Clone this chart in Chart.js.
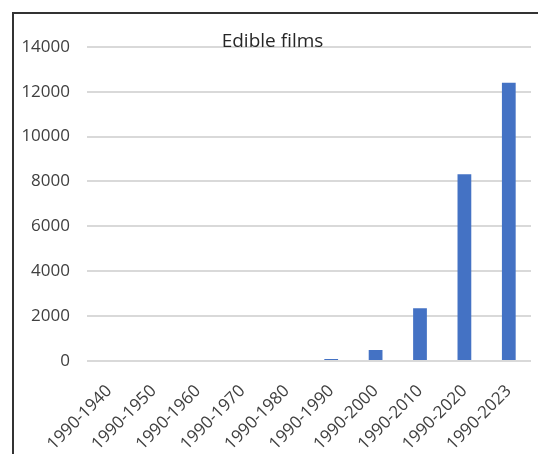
<!DOCTYPE html>
<html>
<head>
<meta charset="utf-8">
<script src="https://cdn.jsdelivr.net/npm/chart.js@4"></script>
<style>
  html, body { margin: 0; padding: 0; background: #fff; }
  #box {
    position: absolute; left: 12px; top: 12px;
    width: 524px; height: 440px;
    border-left: 2px solid #333; border-top: 2px solid #333;
  }
</style>
</head>
<body>
<div id="box"><canvas id="myChart"></canvas></div>
<script>
// Dados do gráfico
const periodos = ["1990-1940", "1990-1950", "1990-1960", "1990-1970", "1990-1980",
                  "1990-1990", "1990-2000", "1990-2010", "1990-2020", "1990-2023"];
const publicacoes = [0, 0, 0, 0, 0, 90, 490, 2350, 8320, 12400];
const titulo = "Edible films";

const config = {
    type: 'bar',
    data: {
        labels: periodos,
        datasets: [
            {backgroundColor: "#4472C4",
             data: publicacoes,
             barPercentage: 0.31,
             categoryPercentage: 1
            }
        ]},
    options: {
      responsive: true,
      maintainAspectRatio: false,
      animation: false,
      layout: {
        padding: { right: 7 }
      },
      plugins: {
          legend: {
              display: false,
          },
          tooltip: { enabled: false },
          title: {
              display: true,
              text: titulo,
              color: '#262626',
              font: { family: 'Open Sans', size: 19, weight: 'normal' },
              padding: { top: 16, bottom: -6 }
          }
      },
      scales: {
          x: {
              grid: { display: false },
              border: { display: false },
              ticks: {
                  color: '#404040',
                  minRotation: 45,
                  maxRotation: 45,
                  padding: 12,
                  font: { family: 'Open Sans', size: 17 },
              },
              afterFit: s => { s.height = 93; }
          },
          y: {
            min: 0,
            max: 14000,
            grid: { color: '#d9d9d9', lineWidth: 2, drawTicks: false },
            border: { display: false },
            ticks: {
              stepSize: 2000,
              color: '#404040',
              padding: 17,
              font: { family: 'Open Sans', size: 17 },
              callback: v => String(v)
            },
            afterFit: s => { s.width = 73; }
          },
      }
  }
};

const ctx = document.getElementById('myChart');
const myChart = new Chart(ctx, config)
</script>
</body>
</html>
